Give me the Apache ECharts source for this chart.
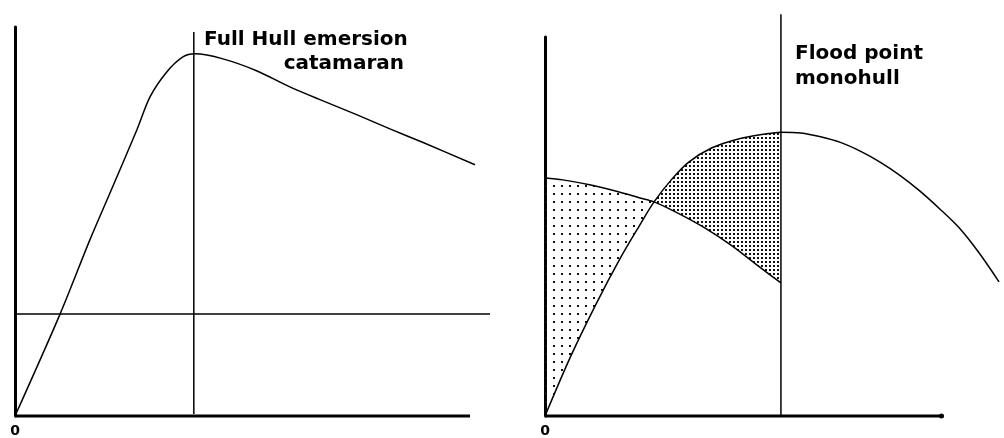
<!DOCTYPE html>
<html>
<head>
<meta charset="utf-8">
<script src="https://cdn.jsdelivr.net/npm/echarts@6/dist/echarts.min.js"></script>
<style>
  html, body { margin: 0; padding: 0; background: #fff; }
  #chart { width: 1004px; height: 438px; }
</style>
</head>
<body>
<div id="chart"></div>
<script>
  // left panel: catamaran righting arm curve
  const catRighting = [
    [0, 0], [9.9, 26.2], [16.5, 45.4], [20.9, 57.4], [26.8, 73.6], [29.7, 82.1],
    [33.4, 88.5], [36.9, 92.3], [39.6, 93.1], [45.7, 91.8], [53.2, 88.7],
    [60.4, 84.6], [67.7, 81.0], [75.2, 77.4], [82.4, 73.8], [89.7, 70.3], [101.1, 64.6]
  ];
  const catHeeling = [[0.4, 26.2], [104.4, 26.2]];
  const emersionLine = [[39.3, 0.5], [39.3, 98.7]];

  // right panel: monohull righting arm and heeling arm
  const monoRighting = [
    [0, 0], [6.5, 15.8], [13, 29.8], [18.75, 41.2], [23.75, 50.1], [27.5, 56.5],
    [32, 62.5], [36.25, 67.0], [42, 70.7], [48.75, 73.1], [55.5, 74.4], [59.5, 74.9],
    [64.5, 74.7], [69.5, 73.7], [74.5, 72.2], [79.5, 69.9], [84.5, 67.0], [89.5, 63.5],
    [94.5, 59.4], [99.5, 54.7], [104.5, 49.6], [109.5, 43.0], [114.5, 35.4]
  ];
  const monoHeeling = [
    [0, 62.8], [4.5, 62.3], [11.25, 61.0], [18, 59.3], [23.75, 57.6], [27.5, 56.5],
    [33.75, 53.4], [40.5, 49.5], [47, 45.0], [53.75, 39.6], [59.5, 35.1]
  ];
  const crossX = 27.5;
  const floodX = 59.5;
  const floodLine = [[floodX, 0], [floodX, 106]];

  // visible part of the heel axis (the grids run a bit further so curves can overshoot)
  const heelAxisEnd = 100;
  const zeroLabel = ['0'];

  const dotPattern = (step) => {
    const c = document.createElement('canvas');
    c.width = step;
    c.height = step;
    const ctx = c.getContext('2d');
    ctx.fillStyle = '#111';
    ctx.fillRect(1, 1, 2, 2);
    return { image: c, repeat: 'repeat' };
  };

  // shaded regions between the two curves of the right panel
  const leftRegion = monoHeeling.filter((p) => p[0] <= crossX)
    .concat(monoRighting.filter((p) => p[0] <= crossX).reverse());
  const rightRegion = monoRighting.filter((p) => p[0] >= crossX && p[0] <= floodX)
    .concat(monoHeeling.filter((p) => p[0] >= crossX && p[0] <= floodX).reverse());
  const regions = [leftRegion, rightRegion];
  const regionPatterns = [dotPattern(8), dotPattern(4)];

  const chart = echarts.init(document.getElementById('chart'));

  const axisX = (gridIndex, max) => ({
    type: 'value',
    gridIndex,
    min: 0,
    max,
    interval: max,
    axisLine: { show: false },
    axisTick: { show: false },
    splitLine: { show: false },
    axisLabel: {
      show: true,
      margin: 8,
      color: '#000',
      fontSize: 14,
      fontWeight: 'bold',
      fontFamily: 'DejaVu Sans',
      formatter: (v) => (v === 0 ? zeroLabel[0] : ''),
    },
  });

  const axisY = (gridIndex) => ({
    type: 'value',
    gridIndex,
    min: 0,
    max: 100,
    axisLine: { show: true, lineStyle: { color: '#000', width: 3 } },
    axisTick: { show: false },
    splitLine: { show: false },
    axisLabel: { show: false },
  });

  const lineSeries = (data, idx, width, smooth) => ({
    type: 'line',
    xAxisIndex: idx,
    yAxisIndex: idx,
    data,
    smooth,
    symbol: 'none',
    clip: false,
    silent: true,
    lineStyle: { color: '#000', width },
    z: 3,
  });

  const baseLine = (idx, endSymbol) => ({
    type: 'line',
    xAxisIndex: idx,
    yAxisIndex: idx,
    data: [
      { value: [0, 0], symbol: 'none' },
      { value: [heelAxisEnd, 0], symbol: endSymbol, symbolSize: 5 },
    ],
    showSymbol: true,
    clip: false,
    silent: true,
    itemStyle: { color: '#000' },
    lineStyle: { color: '#000', width: 3 },
    z: 4,
  });

  const option = {
    animation: false,
    backgroundColor: '#fff',
    grid: [
      { left: 15, top: 27, width: 477.75, height: 390 },
      { left: 545, top: 37, width: 460, height: 379 },
    ],
    xAxis: [axisX(0, 105), axisX(1, 115)],
    yAxis: [axisY(0), axisY(1)],
    graphic: [
      {
        type: 'text', left: 204, top: 30,
        style: { text: 'Full Hull emersion', font: 'bold 20px "DejaVu Sans"', fill: '#000' },
      },
      {
        type: 'text', right: 1004 - 404, top: 54,
        style: { text: 'catamaran', font: 'bold 20px "DejaVu Sans"', fill: '#000' },
      },
      {
        type: 'text', left: 795, top: 44,
        style: { text: 'Flood point', font: 'bold 20px "DejaVu Sans"', fill: '#000' },
      },
      {
        type: 'text', left: 795, top: 69,
        style: { text: 'monohull', font: 'bold 20px "DejaVu Sans"', fill: '#000' },
      },
    ],
    series: [
      {
        type: 'custom',
        xAxisIndex: 1,
        yAxisIndex: 1,
        silent: true,
        clip: false,
        data: [[0], [1]],
        renderItem: (params, api) => {
          const r = api.value(0);
          return {
            type: 'polygon',
            shape: { points: regions[r].map((p) => api.coord(p)) },
            style: { fill: regionPatterns[r], stroke: null },
          };
        },
        z: 1,
      },
      lineSeries(catRighting, 0, 1.5, 0.3),
      lineSeries(catHeeling, 0, 1.5, false),
      lineSeries(emersionLine, 0, 1.5, false),
      lineSeries(monoRighting, 1, 1.5, 0.3),
      lineSeries(monoHeeling, 1, 1.5, 0.3),
      lineSeries(floodLine, 1, 1.5, false),
      baseLine(0, 'none'),
      baseLine(1, 'circle'),
    ],
  };

  chart.setOption(option);
</script>
</body>
</html>
